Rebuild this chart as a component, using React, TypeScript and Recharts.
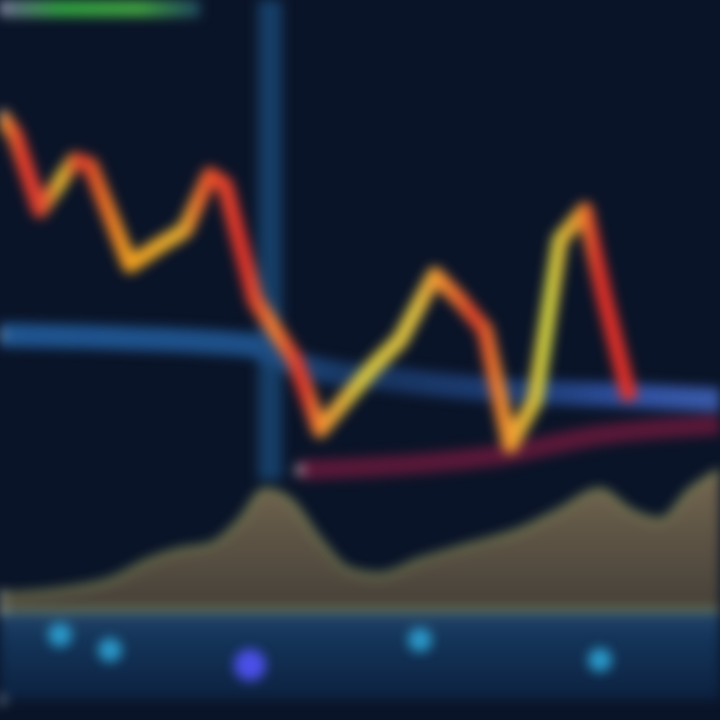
import { ComposedChart, Line, Area, Scatter, XAxis, YAxis, ReferenceLine } from "recharts";

// x positions (0..720 time units) and values (0..720 price units)
const priceX = [0, 15, 40, 75, 90, 130, 160, 185, 210, 225, 255, 275, 295, 320, 345, 375, 400, 435, 460, 485, 510, 535, 560, 585, 605, 630];
const priceV = [605, 585, 510, 560, 555, 455, 475, 490, 545, 535, 420, 390, 360, 290, 320, 355, 380, 445, 420, 390, 275, 320, 480, 510, 420, 320];

const avgX = [0, 120, 250, 300, 400, 500, 620, 720];
const avgV = [385, 382, 375, 355, 340, 330, 325, 320];

const slowX = [300, 400, 500, 600, 720];
const slowV = [250, 255, 265, 285, 295];

const volX = [0, 60, 110, 150, 180, 210, 240, 265, 290, 320, 350, 380, 420, 470, 520, 560, 600, 630, 660, 690, 720];
const volV = [125, 130, 140, 160, 170, 175, 200, 230, 220, 180, 150, 145, 160, 175, 190, 210, 230, 210, 200, 230, 250];
const volBase = 110;

const stripX = [0, 720];
const stripLow = 20;
const stripHigh = 110;

const blobX = [110, 250, 420, 600, 60];
const blobV = [70, 55, 80, 60, 85];

const topX = [0, 60, 130, 200];
const topV = [712, 712, 712, 712];

const price = priceX.map((x, i) => ({ x, v: priceV[i] }));
const avg = avgX.map((x, i) => ({ x, v: avgV[i] }));
const slow = slowX.map((x, i) => ({ x, v: slowV[i] }));
const vol = volX.map((x, i) => ({ x, v: [volBase, volV[i]] }));
const strip = stripX.map((x) => ({ x, v: [stripLow, stripHigh] }));
const blobs = blobX.map((x, i) => ({ x, v: blobV[i] }));
const top = topX.map((x, i) => ({ x, v: topV[i] }));

// colour stops along the price line, as fractions of the 720 wide plot
const priceStops: [number, string][] = [
  [0, "#f0a030"], [0.03, "#e83a2a"], [0.055, "#e04030"], [0.085, "#d8c030"],
  [0.11, "#e03a2a"], [0.18, "#f0a020"], [0.25, "#e8b030"], [0.29, "#e8502a"],
  [0.34, "#e0302a"], [0.38, "#f08030"], [0.42, "#e0302a"], [0.445, "#f09030"],
  [0.5, "#d8c840"], [0.58, "#e0c040"], [0.61, "#f09030"], [0.66, "#e04028"],
  [0.71, "#f0a030"], [0.76, "#c8d040"], [0.8, "#e8a030"], [0.83, "#e03028"], [1, "#e03028"],
];

export default function App() {
  return (
    <div style={{ position: "fixed", left: 0, top: 0, width: 720, height: 720, background: "#0a1428", overflow: "hidden" }}>
      <div style={{ filter: "blur(6px)" }}>
        <ComposedChart width={720} height={720} margin={{ top: 0, right: 0, bottom: 0, left: 0 }}>
          <defs>
            <linearGradient id="priceGrad" gradientUnits="userSpaceOnUse" x1="0" y1="0" x2="720" y2="0">
              {priceStops.map(([o, c]) => (
                <stop key={o} offset={o} stopColor={c} />
              ))}
            </linearGradient>
            <linearGradient id="volGrad" x1="0" y1="0" x2="0" y2="1">
              <stop offset="0" stopColor="#c8a870" stopOpacity={0.95} />
              <stop offset="1" stopColor="#907850" stopOpacity={0.75} />
            </linearGradient>
            <linearGradient id="stripGrad" x1="0" y1="0" x2="0" y2="1">
              <stop offset="0" stopColor="#3a6a9a" />
              <stop offset="0.3" stopColor="#1a4a7a" />
              <stop offset="1" stopColor="#0e2a50" />
            </linearGradient>
            <linearGradient id="avgGrad" gradientUnits="userSpaceOnUse" x1="0" y1="0" x2="720" y2="0">
              <stop offset="0" stopColor="#1f5590" />
              <stop offset="0.35" stopColor="#1e5088" />
              <stop offset="0.5" stopColor="#17345e" />
              <stop offset="0.75" stopColor="#1e3e78" />
              <stop offset="0.88" stopColor="#3050a0" />
              <stop offset="1" stopColor="#3a5aa8" />
            </linearGradient>
            <linearGradient id="topGrad" gradientUnits="userSpaceOnUse" x1="0" y1="0" x2="200" y2="0">
              <stop offset="0" stopColor="#6a6a90" />
              <stop offset="0.3" stopColor="#30a040" />
              <stop offset="0.7" stopColor="#40a040" />
              <stop offset="1" stopColor="#204a60" />
            </linearGradient>
          </defs>
          <XAxis dataKey="x" type="number" domain={[0, 720]} hide allowDuplicatedCategory={false} />
          <YAxis type="number" domain={[0, 720]} hide />
          <Area data={strip} dataKey="v" stroke="none" fill="url(#stripGrad)" isAnimationActive={false} />
          <Area data={vol} dataKey="v" type="monotone" stroke="#98a860" strokeWidth={3} fill="url(#volGrad)" isAnimationActive={false} />
          <Scatter data={blobs} dataKey="v" fill="#30a8d8" shape={(p: any) => (
            <circle cx={p.cx} cy={p.cy} r={p.index === 1 ? 16 : 12} fill={p.index === 1 ? "#4a50e8" : "#2a98c8"} />
          )} isAnimationActive={false} />
          <ReferenceLine segment={[{ x: 270, y: 720 }, { x: 270, y: 240 }]} stroke="#163e66" strokeWidth={24} />
          <Line data={top} dataKey="v" stroke="url(#topGrad)" strokeWidth={18} dot={false} isAnimationActive={false} />
          <Line data={avg} dataKey="v" type="monotone" stroke="url(#avgGrad)" strokeWidth={24} dot={false} isAnimationActive={false} />
          <Line data={slow} dataKey="v" type="monotone" stroke="#5a1838" strokeWidth={20} dot={false} isAnimationActive={false} />
          <Line data={price} dataKey="v" stroke="url(#priceGrad)" strokeWidth={16} strokeLinejoin="round" dot={false} isAnimationActive={false} />
        </ComposedChart>
      </div>
    </div>
  );
}
